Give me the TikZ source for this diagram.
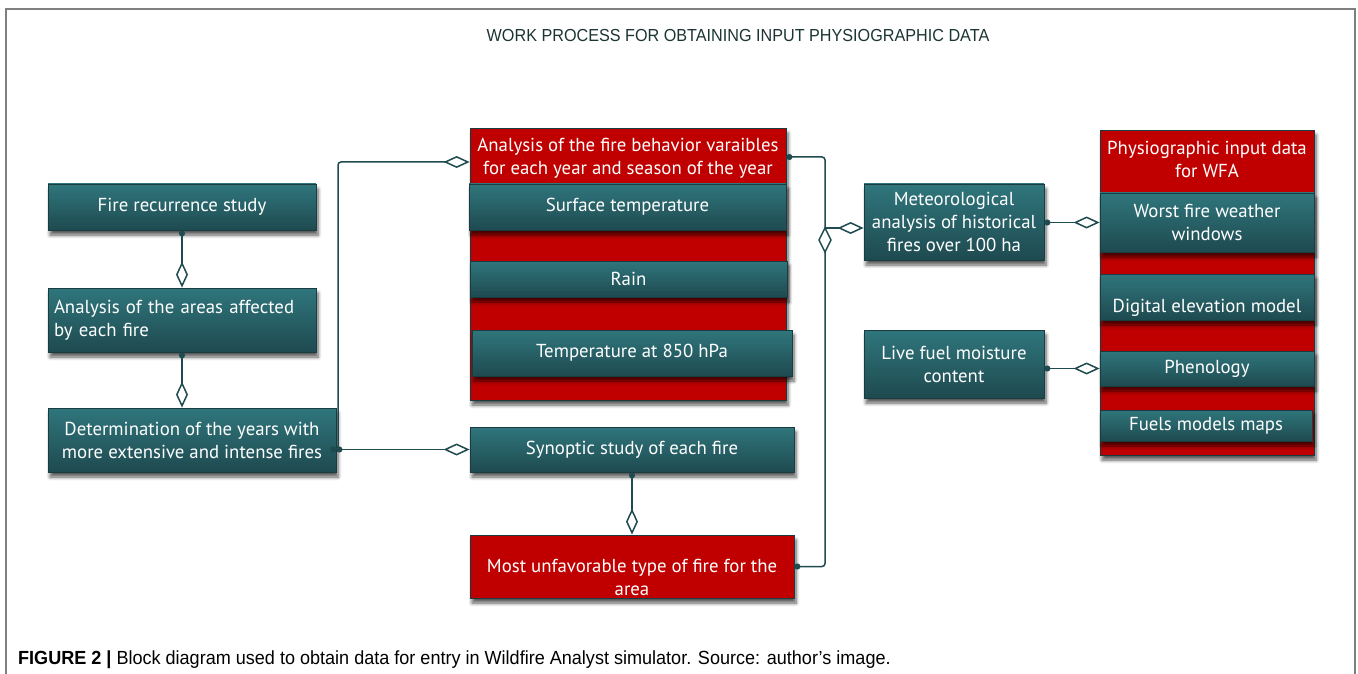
\documentclass[tikz,border=0pt]{standalone}
\usepackage{fontspec}
\setmainfont{Liberation Sans}[FakeStretch=0.95]
\newfontfamily\boxfam{PT Sans}
\newfontfamily\titlefam{Liberation Sans}[FakeStretch=0.93]
\usetikzlibrary{arrows.meta,shadows,shadows.blur}
\definecolor{tealtop}{HTML}{2F767C}
\definecolor{tealbot}{HTML}{1E4A50}
\definecolor{tealedge}{HTML}{183C40}
\definecolor{firered}{HTML}{C00000}
\definecolor{linec}{HTML}{1F4A4F}
\definecolor{framec}{HTML}{7F7F7F}
\definecolor{titlec}{HTML}{1B3533}
\begin{document}
\begin{tikzpicture}[x=1pt,y=-1pt,
  boxfont/.style={font=\boxfam\fontsize{18.8}{23}\selectfont},
  shad/.style={blur shadow={shadow xshift=2pt, shadow yshift=-5pt, shadow blur radius=3.5pt, shadow blur steps=6, shadow opacity=65}},
  box/.style={draw=tealedge, line width=0.8pt, top color=tealtop, bottom color=tealbot,
    text=white, boxfont, align=center, inner sep=0pt, shad},
  redbox/.style={draw=tealedge, line width=0.8pt, fill=firered, inner sep=0pt, shad},
  redtext/.style={text=white, boxfont, align=center, inner sep=0pt},
  conn/.style={draw=linec, line width=1.5pt,
    {Circle[length=6pt]}-{Diamond[open,length=26pt,width=12pt,fill=white]}},
  plain/.style={draw=linec, line width=1.5pt},
]
\useasboundingbox (0,0) rectangle (1358,674);
% frame
\draw[framec, line width=1.5pt] (6,674) -- (6,9) -- (1355,9) -- (1355,674);
% title
\node[font=\titlefam\fontsize{17.4}{19}\selectfont, text=titlec] (title) at (738,36)
  {WORK PROCESS FOR OBTAINING INPUT PHYSIOGRAPHIC DATA};
% left column
\node[box, minimum width=268pt, minimum height=46pt] (fr) at (182,207) {Fire recurrence study};
\node[box, minimum width=268pt, minimum height=64pt, align=left, text width=256pt] (ar) at (182,320)
  {Analysis of the areas affected\\by each fire};
\node[box, minimum width=288pt, minimum height=64pt] (det) at (192,440)
  {Determination of the years with\\more extensive and intense fires};
% middle column
\node[redbox, minimum width=316pt, minimum height=272pt] (beh) at (628,264) {};
\node[redtext] (behT) at (628,158) {Analysis of the fire behavior varaibles\\for each year and season of the year};
\node[box, minimum width=317pt, minimum height=46pt] (st) at (627.5,207) {Surface temperature};
\node[box, minimum width=317pt, minimum height=36pt] (rain) at (628.5,279) {Rain};
\node[box, minimum width=320pt, minimum height=46pt] (t850) at (632,353) {Temperature at 850 hPa};
\node[box, minimum width=324pt, minimum height=45pt] (syn) at (632,449.5) {Synoptic study of each fire};
\node[redbox, minimum width=324pt, minimum height=63pt] (mu) at (632,566.5) {};
\node[redtext] (muT) at (632,577.5) {Most unfavorable type of fire for the\\area};
% right-middle column
\node[box, minimum width=180pt, minimum height=76pt] (met) at (954,222)
  {Meteorological\\analysis of historical\\fires over 100 ha};
\node[box, minimum width=180pt, minimum height=68pt] (live) at (954,364)
  {Live fuel moisture\\content};
% right column
\node[redbox, minimum width=214pt, minimum height=325pt] (phys) at (1207,292.5) {};
\node[redtext] (physT) at (1207,159.5) {Physiographic input data\\for WFA};
\node[box, minimum width=214pt, minimum height=59pt] (worst) at (1207,222.5) {Worst fire weather\\windows};
\node[box, minimum width=214pt, minimum height=46pt] (dem) at (1207,297) {};
\node[redtext] (demT) at (1207,308) {Digital elevation model};
\node[box, minimum width=214pt, minimum height=35pt] (phen) at (1207,368.5) {Phenology};
\node[box, minimum width=212pt, minimum height=31pt] (fuel) at (1206,425.5) {Fuels models maps};
% connectors
\coordinate (lv) at (338,0);
\coordinate (rv) at (825,0);
\draw[conn] (fr.south) -- (ar.north);
\draw[conn] (ar.south) -- (ar.south |- det.north);
\draw[conn] (det.east |- syn.west) -- (syn.west);
\draw[conn, rounded corners=3pt] (det.east |- syn.west) -- (lv |- syn.west) |- (beh.west |- 0,162);
\draw[conn] (syn.south) -- (mu.north);
\draw[plain, {Circle[length=6pt]}-{Circle[length=6pt]}, rounded corners=3pt]
  (beh.east |- 0,157) -| (rv |- mu.east) -- (mu.east);
\draw[draw=linec, line width=1.5pt, -{Diamond[open,length=26pt,width=12pt,fill=white]}]
  (rv |- 0,228) -- (met.west |- 0,228);
\draw[plain, fill=white] (825,228) -- (831,240) -- (825,252) -- (819,240) -- cycle;
\draw[conn] (met.east |- worst.west) -- (worst.west);
\draw[conn] (live.east |- phen.west) -- (phen.west);
% caption
\node[anchor=west, font=\fontsize{19}{21}\selectfont, inner sep=0pt] (cap) at (18,660)
  {\textbf{FIGURE 2 |} Block diagram used to obtain data for entry in Wildfire Analyst simulator. Source: author’s image.};
\end{tikzpicture}
\end{document}
